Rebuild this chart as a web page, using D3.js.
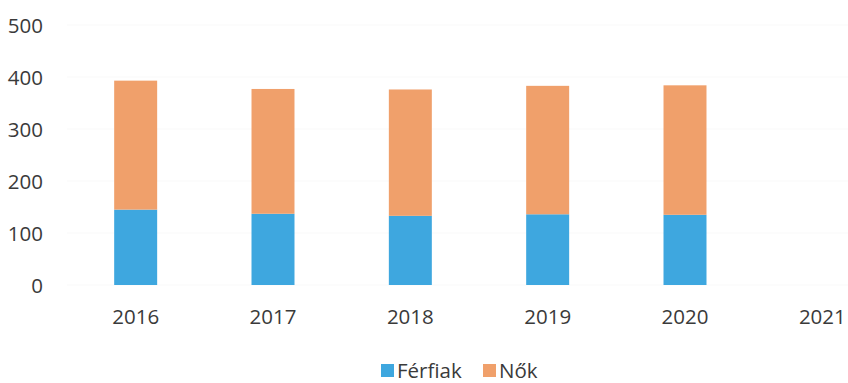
<!DOCTYPE html>
<html>
<head>
<meta charset="utf-8">
<script src="https://cdn.jsdelivr.net/npm/d3@7"></script>
<style>
  html, body { margin: 0; padding: 0; background: #fff; }
  svg { display: block; }
  text { font-family: "Open Sans", "Liberation Sans", sans-serif; fill: #3a3a3a; }
</style>
</head>
<body>
<svg id="chart" width="848" height="383"></svg>
<script>
// Évek és értékek (fő)
const years = ["2016", "2017", "2018", "2019", "2020", "2021"];
const ferfiak = [145, 137, 133, 136, 135, null];
const nok = [248, 240, 243, 247, 249, null];
const yTicks = [0, 100, 200, 300, 400, 500];
const seriesNames = ["Férfiak", "Nők"];
const seriesColors = ["#3ea7df", "#f0a06b"];

const svg = d3.select("#chart");

const y = d3.scaleLinear().domain([0, 500]).range([285, 25]);
const x = d3.scaleBand()
  .domain(years)
  .range([67, 891])
  .paddingInner(0.687)
  .paddingOuter(0.3435);

// very faint horizontal gridlines
svg.append("g")
  .selectAll("line")
  .data(yTicks)
  .join("line")
  .attr("x1", 67).attr("x2", 848)
  .attr("y1", d => y(d)).attr("y2", d => y(d))
  .attr("stroke", "#f9f9f9").attr("stroke-width", 1);

// y axis labels
const yAxis = d3.axisLeft(y).tickValues(yTicks).tickSize(0).tickPadding(0);
const gy = svg.append("g").attr("transform", "translate(43,0)").call(yAxis);
gy.select(".domain").remove();
gy.selectAll("text")
  .style("font-size", "20.5px")
  .style("font-family", "'Open Sans', sans-serif")
  .attr("fill", "#363636")
  .attr("dy", "0.35em");

// x axis labels
const xAxis = d3.axisBottom(x).tickSize(0).tickPadding(0);
const gx = svg.append("g").attr("transform", "translate(0,317)").call(xAxis);
gx.select(".domain").remove();
gx.selectAll("text")
  .style("font-size", "20.5px")
  .style("font-family", "'Open Sans', sans-serif")
  .attr("fill", "#363636")
  .attr("dy", "0.35em")
  .attr("y", 0);

// stacked bars
const rows = years.map((yr, i) => ({ year: yr, "Férfiak": ferfiak[i], "Nők": nok[i] }))
  .filter(r => r["Férfiak"] != null);
const stack = d3.stack().keys(seriesNames)(rows);

svg.append("g")
  .selectAll("g")
  .data(stack)
  .join("g")
  .attr("fill", (d, i) => seriesColors[i])
  .selectAll("rect")
  .data(d => d)
  .join("rect")
  .attr("x", d => x(d.data.year))
  .attr("width", x.bandwidth())
  .attr("y", d => y(d[1]))
  .attr("height", d => y(d[0]) - y(d[1]));

// legend
const legend = svg.append("g").attr("transform", "translate(381,364)");
const legendX = [0, 102];
seriesNames.forEach((name, i) => {
  const g = legend.append("g").attr("transform", `translate(${legendX[i]},0)`);
  g.append("rect").attr("width", 13).attr("height", 13).attr("fill", seriesColors[i]);
  g.append("text").attr("x", 16).attr("y", 13.5)
    .style("font-size", "20.5px").attr("fill", "#363636").text(name);
});
</script>
</body>
</html>
